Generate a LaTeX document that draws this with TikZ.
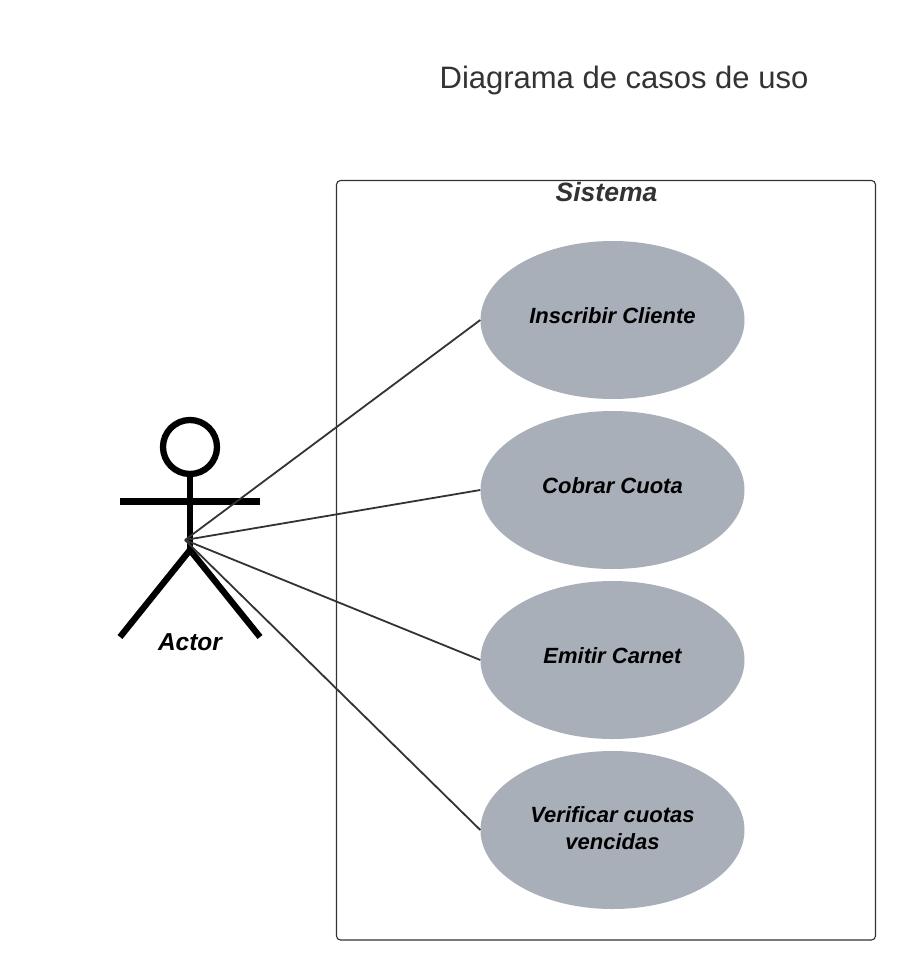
\documentclass[tikz,border=0pt]{standalone}
\usepackage{fontspec}
\setmainfont{Liberation Sans}
\usetikzlibrary{shapes.geometric}
\definecolor{ink}{HTML}{333333}
\definecolor{uc}{HTML}{A9AFB9}
\tikzset{x=1pt,y=-1pt,
 usecase/.style={ellipse,fill=uc,minimum width=264pt,minimum height=158pt,inner sep=0pt,align=center,font=\fontsize{22}{27}\selectfont\bfseries\itshape},
 raised/.style={text height=16pt,text depth=10pt},
 link/.style={draw=ink,line width=1.8pt},
 actorline/.style={draw=black,line width=6.3pt}}
\begin{document}
\begin{tikzpicture}
\useasboundingbox (0,0) rectangle (916,980);
\fill[white] (0,0) rectangle (916,980);
\node[text=ink,font=\fontsize{31}{36}\selectfont] (title) at (624,80) {Diagrama de casos de uso};
\draw[draw=ink,line width=1.1pt,rounded corners=4pt] (336.5,180.5) rectangle (875.5,940);
\node[text=ink,font=\fontsize{26.5}{31}\selectfont\bfseries\itshape] (sys) at (606.5,192.5) {Sistema};
\node[usecase,raised] (u1) at (612.5,320) {Inscribir Cliente};
\node[usecase,raised] (u2) at (612.5,490) {Cobrar Cuota};
\node[usecase,raised] (u3) at (612.5,660) {Emitir Carnet};
\node[usecase,text depth=3pt] (u4) at (612.5,830) {Verificar cuotas\\vencidas};
\node[circle,draw=black,line width=6.3pt,fill=white,minimum size=54pt,inner sep=0pt] (head) at (190,447) {};
\coordinate (hip) at (190,550);
\coordinate (armL) at (120,501.5);
\coordinate (armR) at (260,501.5);
\coordinate (legL) at (120,637);
\coordinate (legR) at (260,637);
\draw[actorline] (head.south) -- (hip);
\draw[actorline] (armL) -- (armR);
\draw[actorline] (legL) -- (hip) -- (legR);
\coordinate (hub) at (185,540);
\draw[link] (hub) -- (u1.west);
\draw[link] (hub) -- (u2.west);
\draw[link] (hub) -- (u3.west);
\draw[link] (hub) -- (u4.west);
\node[font=\fontsize{24.5}{29}\selectfont\bfseries\itshape] (actor) at (190,642) {Actor};
\end{tikzpicture}
\end{document}
